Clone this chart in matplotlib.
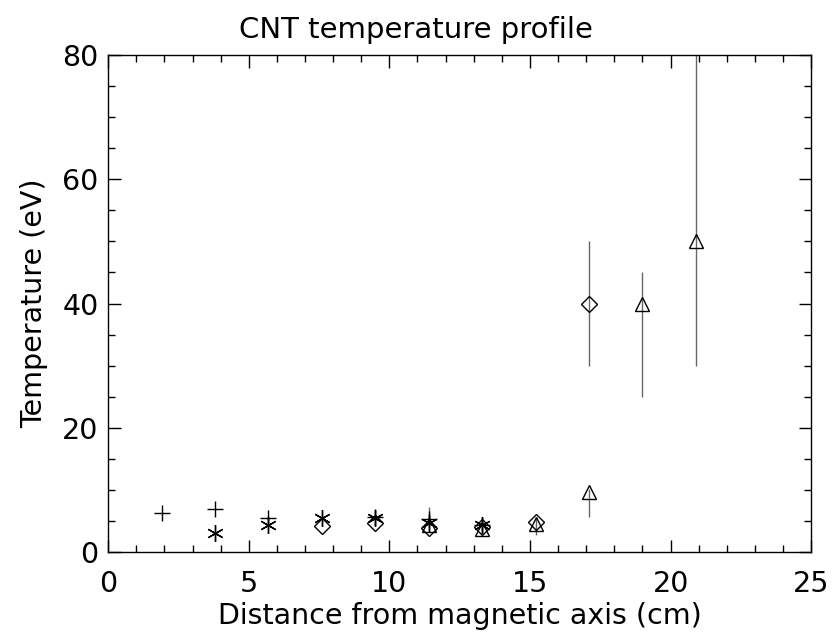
import matplotlib
matplotlib.use("Agg")
import matplotlib.pyplot as plt
from matplotlib.ticker import MultipleLocator

# plus series
plus_x = [1.9, 3.8, 5.7, 9.5, 11.4, 13.3]
plus_y = [6.3, 7.0, 5.4, 5.6, 5.3, 4.4]
plus_lo = [0, 0, 0, 0, 0, 0]
plus_hi = [0, 0, 0, 0, 2.0, 0]

# asterisk series
star_x = [3.8, 5.7, 7.6, 9.5, 11.4, 13.3]
star_y = [3.1, 4.3, 5.5, 5.4, 4.7, 4.3]

# diamond series
dia_x = [7.6, 9.5, 11.4, 13.3, 15.2, 17.1]
dia_y = [4.2, 4.6, 3.9, 4.0, 4.9, 40.0]
dia_lo = [0, 0, 0, 0, 0, 10.0]
dia_hi = [0, 0, 0, 0, 0, 10.0]

# triangle series
tri_x = [11.4, 13.3, 15.2, 17.1, 19.0, 20.9]
tri_y = [4.3, 3.7, 4.5, 9.6, 40.0, 50.0]
tri_lo = [0, 0, 1.7, 4.0, 15.0, 20.0]
tri_hi = [0, 0, 1.2, 0.5, 5.0, 35.0]

plt.rcParams['font.family'] = ['DejaVu Sans']
fig = plt.figure(figsize=(8.32, 6.36), dpi=100)
ax = fig.add_axes([0.130, 0.132, 0.845, 0.7815])

ecol = '#666666'
ax.errorbar(plus_x, plus_y, yerr=[plus_lo, plus_hi], fmt='+', color='black',
            ecolor=ecol, elinewidth=1, ms=12, mew=1, capsize=0)
ax.errorbar(dia_x, dia_y, yerr=[dia_lo, dia_hi], fmt='D', mfc='none', mec='black',
            ecolor=ecol, elinewidth=1, ms=8, mew=1, capsize=0)
ax.errorbar(tri_x, tri_y, yerr=[tri_lo, tri_hi], fmt='^', mfc='none', mec='black',
            ecolor=ecol, elinewidth=1, ms=10, mew=1, capsize=0)
ax.plot(star_x, star_y, ls='none', marker=(6, 2, 0), color='black', ms=12, mew=1)

ax.set_xlim(0, 25)
ax.set_ylim(0, 80)
ax.xaxis.set_major_locator(MultipleLocator(5))
ax.xaxis.set_minor_locator(MultipleLocator(1))
ax.yaxis.set_major_locator(MultipleLocator(20))
ax.yaxis.set_minor_locator(MultipleLocator(5))
ax.tick_params(which='both', direction='in', top=True, right=True, width=1)
ax.tick_params(which='major', length=9, labelsize=20.5)
ax.tick_params(axis='x', which='major', pad=13)
ax.tick_params(axis='y', which='major', pad=7)
ax.tick_params(which='minor', length=5)
for s in ax.spines.values():
    s.set_linewidth(1)

fig.suptitle('CNT temperature profile', fontsize=21, x=0.5, y=0.975)
ax.set_xlabel('Distance from magnetic axis (cm)', fontsize=20.5, labelpad=3)
ax.set_ylabel('Temperature (eV)', fontsize=20.5, labelpad=10)

fig.savefig('out.png', dpi=100)
